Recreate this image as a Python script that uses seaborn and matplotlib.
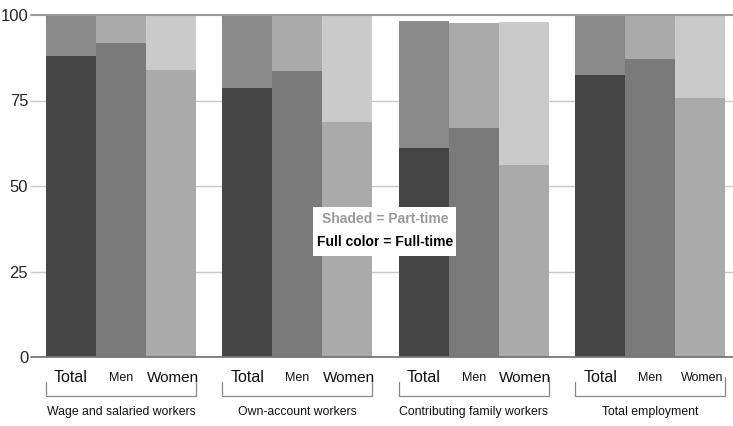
import matplotlib
matplotlib.use("Agg")
import matplotlib.pyplot as plt
import seaborn as sns
import pandas as pd
from matplotlib.patches import Rectangle

# data
groups = ["Wage and salaried workers", "Own-account workers",
          "Contributing family workers", "Total employment"]
sexes = ["Total", "Men", "Women"]
full_time = [[88.0, 91.8, 83.9],
             [78.6, 83.5, 68.8],
             [61.2, 67.0, 56.2],
             [82.5, 87.0, 75.8]]
all_time = [[100, 100, 100],
            [100, 100, 100],
            [98.1, 97.8, 98.0],
            [100, 100, 100]]
yticks = [0, 25, 50, 75, 100]

full_colors = ["#454545", "#7a7a7a", "#aaaaaa"]
shaded_colors = ["#8a8a8a", "#aaaaaa", "#cacaca"]

rows = []
for gi, g in enumerate(groups):
    for si, s in enumerate(sexes):
        rows.append({"group": g, "sex": s, "full": full_time[gi][si], "all": all_time[gi][si]})
df = pd.DataFrame(rows)

sns.set_style("white")
plt.rcParams["font.family"] = ["Liberation Sans", "DejaVu Sans"]

fig = plt.figure(figsize=(7.33, 4.26), dpi=100)
W, H = 733, 426
ax_l, ax_r, ax_t, ax_b = 31, 733, 15, 357
ax = fig.add_axes([ax_l / W, 1 - ax_b / H, (ax_r - ax_l) / W, (ax_b - ax_t) / H])

# part-time on top (total height), full-time drawn over it
sns.barplot(data=df, x="group", y="all", hue="sex", order=groups, hue_order=sexes,
            palette=shaded_colors, width=0.85, gap=0, saturation=1, errorbar=None,
            legend=False, ax=ax, zorder=3, linewidth=0)
sns.barplot(data=df, x="group", y="full", hue="sex", order=groups, hue_order=sexes,
            palette=full_colors, width=0.85, gap=0, saturation=1, errorbar=None,
            legend=False, ax=ax, zorder=4, linewidth=0)

ax.set_ylim(0, 100)
ax.set_xlim(-0.51, 3.47)
ax.set_yticks(yticks)
ax.set_yticklabels([str(v) for v in yticks], fontsize=12)
ax.tick_params(axis="y", length=0, pad=2)
ax.set_xticks([])
ax.set_xlabel("")
ax.set_ylabel("")
for sp in ax.spines.values():
    sp.set_visible(False)

for v in yticks:
    if v == 0:
        c, lw = "#777777", 1.3
    elif v == 100:
        c, lw = "#9a9a9a", 1.5
    else:
        c, lw = "#c8c8c8", 1.0
    ax.axhline(v, color=c, lw=lw, zorder=1 if v not in (0, 100) else 5, clip_on=False)

# category labels under each bar, brackets and group names
bars = ax.patches[:len(groups) * len(sexes)]
centers = sorted([(b.get_x() + b.get_width() / 2, b.get_x(), b.get_x() + b.get_width()) for b in bars])
trans = ax.get_xaxis_transform()
ah = ax_b - ax_t
def ypos(py):
    return -(py - ax_b) / ah

for gi, g in enumerate(groups):
    trio = centers[gi * 3:gi * 3 + 3]
    for si, s in enumerate(sexes):
        if s == "Men":
            fs = 9
        elif gi == 3 and s == "Women":
            fs = 9
        elif s == "Women":
            fs = 11
        else:
            fs = 11.5
        ax.text(trio[si][0] + (0.01 if s == "Women" else 0), ypos(378), s, transform=trans,
                ha="center", va="center", fontsize=fs, color="#111111")
    x0, x1 = trio[0][1], trio[2][2]
    ax.plot([x0, x0, x1, x1], [ypos(382), ypos(396), ypos(396), ypos(377)],
            transform=trans, color="#888888", lw=0.9, clip_on=False)
    ax.text((x0 + x1) / 2, ypos(412), g, transform=trans, ha="center", va="center",
            fontsize=8.8, color="#111111")

# key box
ax.add_patch(Rectangle(((313 - ax_l) / (ax_r - ax_l), 1 - (256 - ax_t) / ah),
                       (456 - 313) / (ax_r - ax_l), (256 - 207) / ah,
                       transform=ax.transAxes, facecolor="white", edgecolor="none", zorder=6))
kx = (385 - ax_l) / (ax_r - ax_l)
ax.text(kx, 1 - (219 - ax_t) / ah, "Shaded = Part-time", transform=ax.transAxes,
        ha="center", va="center", fontsize=10, fontweight="bold", color="#9a9a9a", zorder=7)
ax.text(kx, 1 - (242 - ax_t) / ah, "Full color = Full-time", transform=ax.transAxes,
        ha="center", va="center", fontsize=10, fontweight="bold", color="#000000", zorder=7)

fig.savefig("out.png", dpi=100)
